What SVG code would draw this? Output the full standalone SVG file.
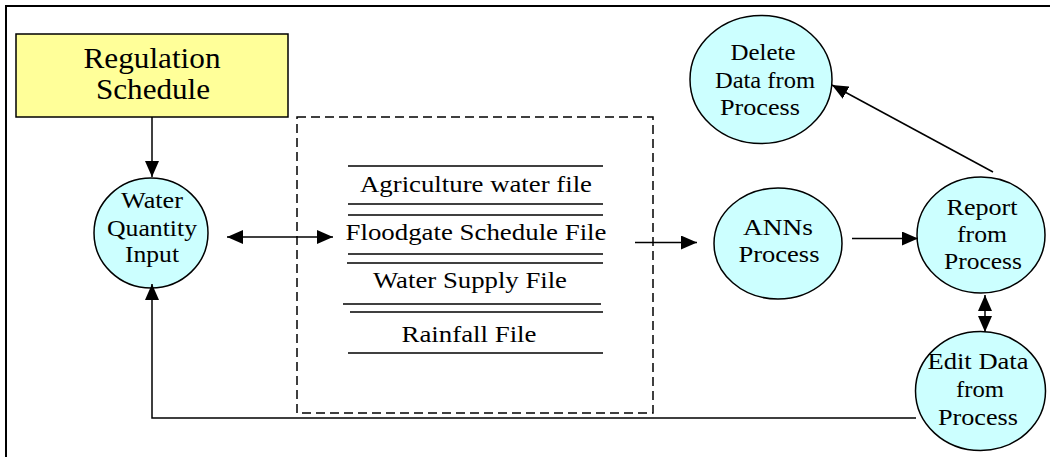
<svg xmlns="http://www.w3.org/2000/svg" width="1050" height="457" viewBox="0 0 1050 457">
<style>
  .frame { stroke: #000; stroke-width: 2; fill: none; }
  .node { fill: #CCFFFF; stroke: #000; stroke-width: 1.5; }
  .rect { fill: #FFFF99; stroke: #000; stroke-width: 1.5; }
  .dash { fill: none; stroke: #000; stroke-width: 1.5; stroke-dasharray: 9 5; }
  .rule { stroke: #000; stroke-width: 1.5; }
  .conn { fill: none; stroke: #000; stroke-width: 1.5; }
  text { font-family: "Liberation Serif", "Times New Roman", serif; fill: #000; text-anchor: middle; }
  .t { font-size: 23px; }
  .big { font-size: 30px; }
</style>
<defs>
  <marker id="ah" markerUnits="userSpaceOnUse" markerWidth="17" markerHeight="14" refX="16" refY="7" orient="auto-start-reverse">
    <path d="M0,0 L16,7 L0,14 z" fill="#000"/>
  </marker>
</defs>
<rect width="1050" height="457" fill="#fff"/>
<line class="frame" x1="5" y1="6" x2="1050" y2="6"/>
<line class="frame" x1="6" y1="5" x2="6" y2="457"/>

<g id="regulation-schedule">
  <rect class="rect" x="16" y="34" width="272" height="83"/>
  <text class="big" x="152" y="68" textLength="137" lengthAdjust="spacingAndGlyphs">Regulation</text>
  <text class="big" x="153" y="99" textLength="114" lengthAdjust="spacingAndGlyphs">Schedule</text>
</g>

<g id="water-quantity-input">
  <ellipse class="node" cx="151" cy="233" rx="57" ry="55"/>
  <text class="t" x="152" y="208" textLength="62" lengthAdjust="spacingAndGlyphs">Water</text>
  <text class="t" x="152" y="236" textLength="90" lengthAdjust="spacingAndGlyphs">Quantity</text>
  <text class="t" x="152" y="262" textLength="54" lengthAdjust="spacingAndGlyphs">Input</text>
</g>

<g id="data-files">
  <rect class="dash" x="297" y="117" width="356" height="296"/>
  <line class="rule" x1="348" y1="166" x2="603" y2="166"/>
  <text class="t" x="476" y="192" textLength="232" lengthAdjust="spacingAndGlyphs">Agriculture water file</text>
  <line class="rule" x1="348" y1="204" x2="603" y2="204"/>
  <line class="rule" x1="348" y1="215" x2="603" y2="215"/>
  <text class="t" x="476" y="240" textLength="261" lengthAdjust="spacingAndGlyphs">Floodgate Schedule File</text>
  <line class="rule" x1="348" y1="254" x2="603" y2="254"/>
  <line class="rule" x1="347" y1="263" x2="603" y2="263"/>
  <text class="t" x="470" y="288" textLength="194" lengthAdjust="spacingAndGlyphs">Water Supply File</text>
  <line class="rule" x1="343" y1="304" x2="601" y2="304"/>
  <line class="rule" x1="350" y1="312" x2="603" y2="312"/>
  <text class="t" x="469" y="342" textLength="135" lengthAdjust="spacingAndGlyphs">Rainfall File</text>
  <line class="rule" x1="348" y1="353" x2="603" y2="353"/>
</g>

<g id="anns-process">
  <ellipse class="node" cx="778" cy="243.5" rx="64" ry="55.5"/>
  <text class="t" x="778" y="235" textLength="70" lengthAdjust="spacingAndGlyphs">ANNs</text>
  <text class="t" x="779" y="262" textLength="81" lengthAdjust="spacingAndGlyphs">Process</text>
</g>

<g id="delete-data">
  <ellipse class="node" cx="761" cy="79.5" rx="71" ry="64"/>
  <text class="t" x="763" y="60" textLength="65" lengthAdjust="spacingAndGlyphs">Delete</text>
  <text class="t" x="765" y="88" textLength="100" lengthAdjust="spacingAndGlyphs">Data from</text>
  <text class="t" x="760" y="115" textLength="80" lengthAdjust="spacingAndGlyphs">Process</text>
</g>

<g id="report-from-process">
  <ellipse class="node" cx="981" cy="235" rx="64" ry="58"/>
  <text class="t" x="982" y="215" textLength="71" lengthAdjust="spacingAndGlyphs">Report</text>
  <text class="t" x="982" y="242" textLength="50" lengthAdjust="spacingAndGlyphs">from</text>
  <text class="t" x="983" y="269" textLength="78" lengthAdjust="spacingAndGlyphs">Process</text>
</g>

<g id="edit-data">
  <ellipse class="node" cx="980.5" cy="391" rx="65" ry="59.5"/>
  <text class="t" x="978" y="369" textLength="101" lengthAdjust="spacingAndGlyphs">Edit Data</text>
  <text class="t" x="980" y="397" textLength="48" lengthAdjust="spacingAndGlyphs">from</text>
  <text class="t" x="978" y="425" textLength="80" lengthAdjust="spacingAndGlyphs">Process</text>
</g>

<g id="connectors">
  <line class="conn" x1="152" y1="117" x2="152" y2="177" marker-end="url(#ah)"/>
  <line class="conn" x1="227" y1="237" x2="333" y2="237" marker-start="url(#ah)" marker-end="url(#ah)"/>
  <line class="conn" x1="635" y1="242.5" x2="697" y2="242.5" marker-end="url(#ah)"/>
  <line class="conn" x1="852" y1="238.5" x2="918" y2="238.5" marker-end="url(#ah)"/>
  <line class="conn" x1="993" y1="172" x2="832" y2="85" marker-end="url(#ah)"/>
  <line class="conn" x1="985" y1="295" x2="985" y2="332" marker-start="url(#ah)" marker-end="url(#ah)"/>
  <polyline class="conn" points="916,418 152,418 152,284" marker-end="url(#ah)"/>
</g>
</svg>
